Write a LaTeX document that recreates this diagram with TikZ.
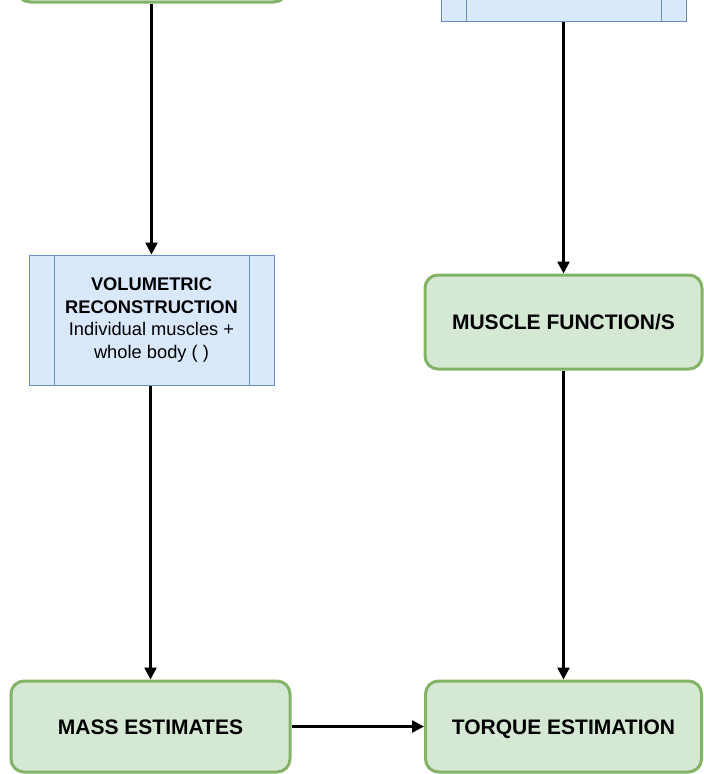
\documentclass[tikz,border=0pt]{standalone}
\usepackage{fontspec}
\setmainfont{Liberation Sans}
\usetikzlibrary{arrows.meta}
\definecolor{greenfill}{HTML}{D5E8D4}
\definecolor{greenline}{HTML}{82B366}
\definecolor{bluefill}{HTML}{DAE8FC}
\definecolor{blueline}{HTML}{6C8EBF}
\tikzset{
  x=1pt, y=-1pt,
  stepgreen/.style={draw=greenline, fill=greenfill, line width=3pt,
    rounded corners=13pt, align=center, font=\fontsize{21}{24}\selectfont\bfseries,
    inner sep=0pt, text height=15pt, text depth=0pt},
  stepblue/.style={draw=blueline, fill=bluefill, line width=1pt,
    align=center, font=\fontsize{18.3}{22.5}\selectfont, inner sep=0pt,
    path picture={
      \draw[blueline, line width=1pt]
        ([xshift=25pt]path picture bounding box.north west) --
        ([xshift=25pt]path picture bounding box.south west)
        ([xshift=-25pt]path picture bounding box.north east) --
        ([xshift=-25pt]path picture bounding box.south east);
    }},
  flow/.style={draw=black, line width=2.5pt,
    -{Triangle[length=12pt, width=12pt]}}
}
\begin{document}
\begin{tikzpicture}
\useasboundingbox (0,0) rectangle (704,774);
\clip (0,0) rectangle (704,774);
% left column
\node[stepgreen, minimum width=270pt, minimum height=90pt] (src) at (152,-43) {};
\node[stepblue, minimum width=245pt, minimum height=130pt] (vol) at (151.5,320)
  {\textbf{VOLUMETRIC}\\\textbf{RECONSTRUCTION}\\Individual muscles +\\whole body ( )};
\node[stepgreen, minimum width=279pt, minimum height=91pt] (mass) at (150.5,726.5) {MASS ESTIMATES};
% right column
\node[stepblue, minimum width=245pt, minimum height=130pt] (img) at (563.5,-44) {};
\node[stepgreen, minimum width=277pt, minimum height=94pt] (func) at (563.5,322) {MUSCLE FUNCTION/S};
\node[stepgreen, minimum width=276pt, minimum height=91pt] (torque) at (563.5,726.5) {TORQUE ESTIMATION};
% connectors
\draw[flow] (src.south -| vol.north) -- (vol.north);
\draw[flow] (vol.south -| mass.north) -- (mass.north);
\draw[flow] (img.south) -- (func.north);
\draw[flow] (func.south) -- (torque.north);
\draw[flow] (mass.east) -- (torque.west);
\end{tikzpicture}
\end{document}
